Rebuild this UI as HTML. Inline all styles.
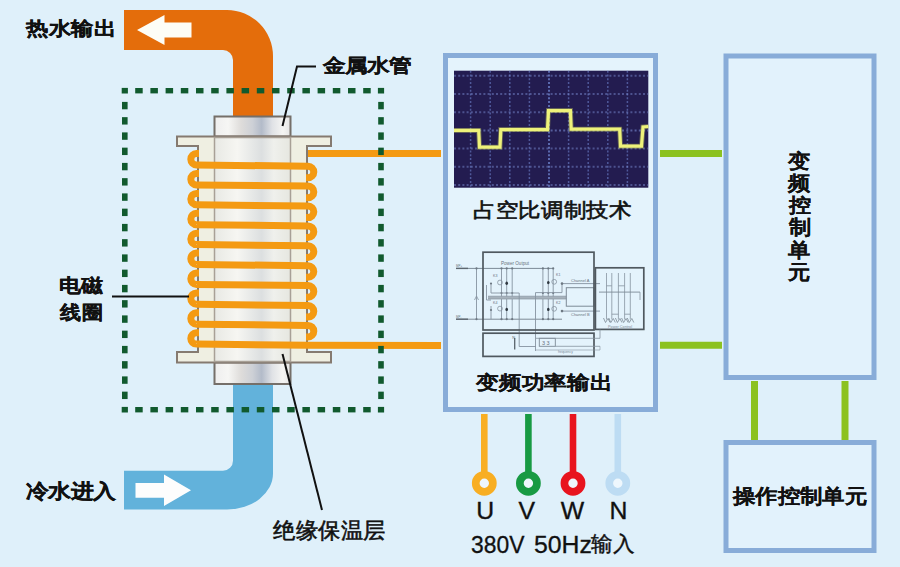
<!DOCTYPE html>
<html><head><meta charset="utf-8"><style>
html,body{margin:0;padding:0;width:900px;height:567px;overflow:hidden;background:#dff0fa;}
body{position:relative;font-family:"Liberation Sans",sans-serif;color:#111111;}
.t{position:absolute;white-space:nowrap;line-height:1;transform-origin:0 0;}
</style></head><body>
<svg width="900" height="567" viewBox="0 0 900 567" style="position:absolute;left:0;top:0">
<defs>
<linearGradient id="cap" x1="0" x2="1" y1="0" y2="0">
<stop offset="0" stop-color="#eeeeee"/><stop offset="0.18" stop-color="#f6f6f4"/><stop offset="0.35" stop-color="#dedcda"/>
<stop offset="0.5" stop-color="#cdd0d6"/><stop offset="0.62" stop-color="#b3bbc9"/><stop offset="0.76" stop-color="#e0e2e6"/><stop offset="0.9" stop-color="#f5f5f3"/><stop offset="1" stop-color="#e4e4e4"/>
</linearGradient>
<linearGradient id="tube" x1="0" x2="1" y1="0" y2="0">
<stop offset="0" stop-color="#e8e9e4"/><stop offset="0.3" stop-color="#f6f6f2"/><stop offset="0.62" stop-color="#dcdfe0"/>
<stop offset="0.78" stop-color="#eff0ec"/><stop offset="1" stop-color="#e6e7e0"/>
</linearGradient>
</defs>
<rect width="900" height="567" fill="#dff0fa"/>
<!-- hot pipe -->
<path d="M124,10 H227 A46,46 0 0 1 273,56 V118 H233 V60 A10,10 0 0 0 223,50 H124 Z" fill="#e46d0b"/>
<polygon points="137,30 164.5,15 164.5,22.5 191.5,22.5 191.5,37.5 164.5,37.5 164.5,45" fill="#fdfdf6"/>
<!-- cold pipe -->
<path d="M233,382 H273 V473.5 A46,36 0 0 1 227,509.5 H124 V470.8 H223 A10,10 0 0 0 233,460.8 Z" fill="#62b2db"/>
<polygon points="135.5,483 164,483 164,474.5 191,490.3 164,506 164,497.8 135.5,497.8" fill="#fdfdfd"/>
<!-- caps -->
<rect x="214.5" y="116.5" width="76" height="20" fill="url(#cap)" stroke="#756f69" stroke-width="2"/>
<rect x="214.5" y="362.5" width="76" height="21.5" fill="url(#cap)" stroke="#756f69" stroke-width="2"/>
<!-- flanges + body -->
<path d="M177,136.5 H331 V146 H307 V352 H331 V362.5 H177 V352 H198 V146 H177 Z" fill="#efefe2" stroke="#857a70" stroke-width="2"/>
<rect x="214.5" y="137.5" width="76" height="224" fill="url(#tube)" stroke="#a8a096" stroke-width="1.5"/>
<path d="M199,153.6 H196.5 A5.7,5.7 0 0 0 196.5,165.0 M196.5,165.0 L308,166.2 A5.8,5.8 0 0 1 308,177.8 H306 M199,173.5 H196.5 A5.7,5.7 0 0 0 196.5,184.9 M196.5,184.9 L308,186.1 A5.8,5.8 0 0 1 308,197.7 H306 M199,193.4 H196.5 A5.7,5.7 0 0 0 196.5,204.8 M196.5,204.8 L308,206.0 A5.8,5.8 0 0 1 308,217.6 H306 M199,213.3 H196.5 A5.7,5.7 0 0 0 196.5,224.7 M196.5,224.7 L308,225.9 A5.8,5.8 0 0 1 308,237.5 H306 M199,233.2 H196.5 A5.7,5.7 0 0 0 196.5,244.6 M196.5,244.6 L308,245.8 A5.8,5.8 0 0 1 308,257.4 H306 M199,253.1 H196.5 A5.7,5.7 0 0 0 196.5,264.5 M196.5,264.5 L308,265.7 A5.8,5.8 0 0 1 308,277.3 H306 M199,273.0 H196.5 A5.7,5.7 0 0 0 196.5,284.4 M196.5,284.4 L308,285.6 A5.8,5.8 0 0 1 308,297.2 H306 M199,292.9 H196.5 A5.7,5.7 0 0 0 196.5,304.3 M196.5,304.3 L308,305.5 A5.8,5.8 0 0 1 308,317.1 H306 M199,312.8 H196.5 A5.7,5.7 0 0 0 196.5,324.2 M196.5,324.2 L308,325.4 A5.8,5.8 0 0 1 308,337.0 H306 M199,332.7 H196.5 A5.7,5.7 0 0 0 196.5,344.1 M196.5,344.1 L308,345.3 L441,345.4" fill="none" stroke="#f49a12" stroke-width="7" stroke-linecap="butt"/>
<line x1="308" y1="153.4" x2="441" y2="153.4" stroke="#f49a12" stroke-width="7"/>
<rect x="121.70" y="87.90" width="6.2" height="5.6" fill="#115a2e"/>
<rect x="377.90" y="87.90" width="6.2" height="5.6" fill="#115a2e"/>
<rect x="121.70" y="406.90" width="6.2" height="5.6" fill="#115a2e"/>
<rect x="377.90" y="406.90" width="6.2" height="5.6" fill="#115a2e"/>
<rect x="135.20" y="88.00" width="7.5" height="5.4" fill="#115a2e"/>
<rect x="135.20" y="407.00" width="7.5" height="5.4" fill="#115a2e"/>
<rect x="150.40" y="88.00" width="7.5" height="5.4" fill="#115a2e"/>
<rect x="150.40" y="407.00" width="7.5" height="5.4" fill="#115a2e"/>
<rect x="165.60" y="88.00" width="7.5" height="5.4" fill="#115a2e"/>
<rect x="165.60" y="407.00" width="7.5" height="5.4" fill="#115a2e"/>
<rect x="180.80" y="88.00" width="7.5" height="5.4" fill="#115a2e"/>
<rect x="180.80" y="407.00" width="7.5" height="5.4" fill="#115a2e"/>
<rect x="196.00" y="88.00" width="7.5" height="5.4" fill="#115a2e"/>
<rect x="196.00" y="407.00" width="7.5" height="5.4" fill="#115a2e"/>
<rect x="211.20" y="88.00" width="7.5" height="5.4" fill="#115a2e"/>
<rect x="211.20" y="407.00" width="7.5" height="5.4" fill="#115a2e"/>
<rect x="226.40" y="88.00" width="7.5" height="5.4" fill="#115a2e"/>
<rect x="226.40" y="407.00" width="7.5" height="5.4" fill="#115a2e"/>
<rect x="241.60" y="88.00" width="7.5" height="5.4" fill="#115a2e"/>
<rect x="241.60" y="407.00" width="7.5" height="5.4" fill="#115a2e"/>
<rect x="256.80" y="88.00" width="7.5" height="5.4" fill="#115a2e"/>
<rect x="256.80" y="407.00" width="7.5" height="5.4" fill="#115a2e"/>
<rect x="272.00" y="88.00" width="7.5" height="5.4" fill="#115a2e"/>
<rect x="272.00" y="407.00" width="7.5" height="5.4" fill="#115a2e"/>
<rect x="287.20" y="88.00" width="7.5" height="5.4" fill="#115a2e"/>
<rect x="287.20" y="407.00" width="7.5" height="5.4" fill="#115a2e"/>
<rect x="302.40" y="88.00" width="7.5" height="5.4" fill="#115a2e"/>
<rect x="302.40" y="407.00" width="7.5" height="5.4" fill="#115a2e"/>
<rect x="317.60" y="88.00" width="7.5" height="5.4" fill="#115a2e"/>
<rect x="317.60" y="407.00" width="7.5" height="5.4" fill="#115a2e"/>
<rect x="332.80" y="88.00" width="7.5" height="5.4" fill="#115a2e"/>
<rect x="332.80" y="407.00" width="7.5" height="5.4" fill="#115a2e"/>
<rect x="348.00" y="88.00" width="7.5" height="5.4" fill="#115a2e"/>
<rect x="348.00" y="407.00" width="7.5" height="5.4" fill="#115a2e"/>
<rect x="363.20" y="88.00" width="7.5" height="5.4" fill="#115a2e"/>
<rect x="363.20" y="407.00" width="7.5" height="5.4" fill="#115a2e"/>
<rect x="122.00" y="101.90" width="5.6" height="7.4" fill="#115a2e"/>
<rect x="378.20" y="101.90" width="5.6" height="7.4" fill="#115a2e"/>
<rect x="122.00" y="117.15" width="5.6" height="7.4" fill="#115a2e"/>
<rect x="378.20" y="117.15" width="5.6" height="7.4" fill="#115a2e"/>
<rect x="122.00" y="132.40" width="5.6" height="7.4" fill="#115a2e"/>
<rect x="378.20" y="132.40" width="5.6" height="7.4" fill="#115a2e"/>
<rect x="122.00" y="147.65" width="5.6" height="7.4" fill="#115a2e"/>
<rect x="378.20" y="147.65" width="5.6" height="7.4" fill="#115a2e"/>
<rect x="122.00" y="162.90" width="5.6" height="7.4" fill="#115a2e"/>
<rect x="378.20" y="162.90" width="5.6" height="7.4" fill="#115a2e"/>
<rect x="122.00" y="178.15" width="5.6" height="7.4" fill="#115a2e"/>
<rect x="378.20" y="178.15" width="5.6" height="7.4" fill="#115a2e"/>
<rect x="122.00" y="193.40" width="5.6" height="7.4" fill="#115a2e"/>
<rect x="378.20" y="193.40" width="5.6" height="7.4" fill="#115a2e"/>
<rect x="122.00" y="208.65" width="5.6" height="7.4" fill="#115a2e"/>
<rect x="378.20" y="208.65" width="5.6" height="7.4" fill="#115a2e"/>
<rect x="122.00" y="223.90" width="5.6" height="7.4" fill="#115a2e"/>
<rect x="378.20" y="223.90" width="5.6" height="7.4" fill="#115a2e"/>
<rect x="122.00" y="239.15" width="5.6" height="7.4" fill="#115a2e"/>
<rect x="378.20" y="239.15" width="5.6" height="7.4" fill="#115a2e"/>
<rect x="122.00" y="254.40" width="5.6" height="7.4" fill="#115a2e"/>
<rect x="378.20" y="254.40" width="5.6" height="7.4" fill="#115a2e"/>
<rect x="122.00" y="269.65" width="5.6" height="7.4" fill="#115a2e"/>
<rect x="378.20" y="269.65" width="5.6" height="7.4" fill="#115a2e"/>
<rect x="122.00" y="284.90" width="5.6" height="7.4" fill="#115a2e"/>
<rect x="378.20" y="284.90" width="5.6" height="7.4" fill="#115a2e"/>
<rect x="122.00" y="300.15" width="5.6" height="7.4" fill="#115a2e"/>
<rect x="378.20" y="300.15" width="5.6" height="7.4" fill="#115a2e"/>
<rect x="122.00" y="315.40" width="5.6" height="7.4" fill="#115a2e"/>
<rect x="378.20" y="315.40" width="5.6" height="7.4" fill="#115a2e"/>
<rect x="122.00" y="330.65" width="5.6" height="7.4" fill="#115a2e"/>
<rect x="378.20" y="330.65" width="5.6" height="7.4" fill="#115a2e"/>
<rect x="122.00" y="345.90" width="5.6" height="7.4" fill="#115a2e"/>
<rect x="378.20" y="345.90" width="5.6" height="7.4" fill="#115a2e"/>
<rect x="122.00" y="361.15" width="5.6" height="7.4" fill="#115a2e"/>
<rect x="378.20" y="361.15" width="5.6" height="7.4" fill="#115a2e"/>
<rect x="122.00" y="376.40" width="5.6" height="7.4" fill="#115a2e"/>
<rect x="378.20" y="376.40" width="5.6" height="7.4" fill="#115a2e"/>
<rect x="122.00" y="391.65" width="5.6" height="7.4" fill="#115a2e"/>
<rect x="378.20" y="391.65" width="5.6" height="7.4" fill="#115a2e"/>
<!-- leader lines -->
<polyline points="316,66.5 297,66.5 282.5,126" fill="none" stroke="#111" stroke-width="2"/>
<line x1="112" y1="296.5" x2="189" y2="296.5" stroke="#111" stroke-width="2"/>
<line x1="282.5" y1="354" x2="322" y2="510" stroke="#111" stroke-width="2"/>
<!-- center box -->
<rect x="445.5" y="55.5" width="210" height="354" fill="#e4f3fc" stroke="#88acd8" stroke-width="5"/>
<!-- right boxes -->
<rect x="726" y="56" width="148" height="321.5" fill="#e2f2fc" stroke="#88acd8" stroke-width="5"/>
<rect x="726" y="442.5" width="148" height="108" fill="#e2f2fc" stroke="#88acd8" stroke-width="5"/>
<!-- green connectors -->
<line x1="660" y1="153.5" x2="722" y2="153.5" stroke="#8cc220" stroke-width="7"/>
<line x1="660" y1="345.3" x2="722" y2="345.3" stroke="#8cc220" stroke-width="7"/>
<line x1="754.5" y1="381" x2="754.5" y2="440" stroke="#8cc220" stroke-width="7"/>
<line x1="845" y1="381" x2="845" y2="440" stroke="#8cc220" stroke-width="7"/>
<rect x="454" y="70.7" width="194.3" height="117.0" fill="#231c50"/>
<line x1="470.6" y1="70.7" x2="470.6" y2="187.7" stroke="#7b95e4" stroke-width="1.5" stroke-dasharray="2 1.8" opacity="0.5"/>
<line x1="490.2" y1="70.7" x2="490.2" y2="187.7" stroke="#7b95e4" stroke-width="1.5" stroke-dasharray="2 1.8" opacity="0.5"/>
<line x1="509.8" y1="70.7" x2="509.8" y2="187.7" stroke="#7b95e4" stroke-width="1.5" stroke-dasharray="2 1.8" opacity="0.5"/>
<line x1="529.4" y1="70.7" x2="529.4" y2="187.7" stroke="#7b95e4" stroke-width="1.5" stroke-dasharray="2 1.8" opacity="0.5"/>
<line x1="549.0" y1="70.7" x2="549.0" y2="187.7" stroke="#7b95e4" stroke-width="1.5" stroke-dasharray="2 1.8" opacity="0.85"/>
<line x1="568.6" y1="70.7" x2="568.6" y2="187.7" stroke="#7b95e4" stroke-width="1.5" stroke-dasharray="2 1.8" opacity="0.5"/>
<line x1="588.2" y1="70.7" x2="588.2" y2="187.7" stroke="#7b95e4" stroke-width="1.5" stroke-dasharray="2 1.8" opacity="0.5"/>
<line x1="607.8" y1="70.7" x2="607.8" y2="187.7" stroke="#7b95e4" stroke-width="1.5" stroke-dasharray="2 1.8" opacity="0.5"/>
<line x1="627.4" y1="70.7" x2="627.4" y2="187.7" stroke="#7b95e4" stroke-width="1.5" stroke-dasharray="2 1.8" opacity="0.5"/>
<line x1="454" y1="75.8" x2="648.3" y2="75.8" stroke="#8195dc" stroke-width="2" stroke-dasharray="2 2.2" opacity="0.45"/>
<line x1="454" y1="94.0" x2="648.3" y2="94.0" stroke="#8195dc" stroke-width="2" stroke-dasharray="2 2.2" opacity="0.45"/>
<line x1="454" y1="112.2" x2="648.3" y2="112.2" stroke="#8195dc" stroke-width="2" stroke-dasharray="2 2.2" opacity="0.45"/>
<line x1="454" y1="130.4" x2="648.3" y2="130.4" stroke="#8195dc" stroke-width="2" stroke-dasharray="2 2.2" opacity="0.55"/>
<line x1="454" y1="148.6" x2="648.3" y2="148.6" stroke="#8195dc" stroke-width="2" stroke-dasharray="2 2.2" opacity="0.45"/>
<line x1="454" y1="166.8" x2="648.3" y2="166.8" stroke="#8195dc" stroke-width="2" stroke-dasharray="2 2.2" opacity="0.45"/>
<line x1="454" y1="185.0" x2="648.3" y2="185.0" stroke="#8195dc" stroke-width="2" stroke-dasharray="2 2.2" opacity="0.45"/>
<polyline points="454,130.4 478.7,130.4 479.5,147.2 500,147.2 500.8,129.6 547.5,129.6 548.5,110.6 570.4,110.6 571.2,129.2 619.7,129.2 620.5,146.2 641.5,146.2 643,127 648.3,126.5" fill="none" stroke="#dfe860" stroke-width="5" opacity="0.35"/>
<polyline points="454,130.4 478.7,130.4 479.5,147.2 500,147.2 500.8,129.6 547.5,129.6 548.5,110.6 570.4,110.6 571.2,129.2 619.7,129.2 620.5,146.2 641.5,146.2 643,127 648.3,126.5" fill="none" stroke="#eef27a" stroke-width="3.2"/>
<line x1="456" y1="268.4" x2="553.2" y2="268.4" stroke="#7d8a96" stroke-width="1.0"/>
<line x1="456" y1="319.2" x2="562" y2="319.2" stroke="#7d8a96" stroke-width="1.0"/>
<line x1="456" y1="268.4" x2="468" y2="268.4" stroke="#5d6770" stroke-width="1.4"/>
<line x1="456" y1="319.2" x2="468" y2="319.2" stroke="#5d6770" stroke-width="1.4"/>
<line x1="476.5" y1="268.4" x2="476.5" y2="319.2" stroke="#8693a0" stroke-width="0.9"/>
<polyline points="474.5,300 476.5,296 478.5,300" fill="none" stroke="#8693a0" stroke-width="0.8"/>
<line x1="501.5" y1="268.4" x2="501.5" y2="319.2" stroke="#8693a0" stroke-width="0.9"/>
<circle cx="501.5" cy="268.4" r="1.1" fill="#6d7883"/>
<circle cx="501.5" cy="319.2" r="1.1" fill="#6d7883"/>
<circle cx="501.5" cy="293" r="1.1" fill="#6d7883"/>
<line x1="506.7" y1="268.4" x2="506.7" y2="319.2" stroke="#8693a0" stroke-width="0.9"/>
<circle cx="506.7" cy="268.4" r="1.1" fill="#6d7883"/>
<circle cx="506.7" cy="319.2" r="1.1" fill="#6d7883"/>
<circle cx="506.7" cy="293" r="1.1" fill="#6d7883"/>
<line x1="512.2" y1="268.4" x2="512.2" y2="319.2" stroke="#8693a0" stroke-width="0.9"/>
<circle cx="512.2" cy="268.4" r="1.1" fill="#6d7883"/>
<circle cx="512.2" cy="319.2" r="1.1" fill="#6d7883"/>
<circle cx="512.2" cy="293" r="1.1" fill="#6d7883"/>
<line x1="542.9" y1="268.4" x2="542.9" y2="319.2" stroke="#8693a0" stroke-width="0.9"/>
<circle cx="542.9" cy="268.4" r="1.1" fill="#6d7883"/>
<circle cx="542.9" cy="319.2" r="1.1" fill="#6d7883"/>
<circle cx="542.9" cy="293" r="1.1" fill="#6d7883"/>
<line x1="548.3" y1="268.4" x2="548.3" y2="319.2" stroke="#8693a0" stroke-width="0.9"/>
<circle cx="548.3" cy="268.4" r="1.1" fill="#6d7883"/>
<circle cx="548.3" cy="319.2" r="1.1" fill="#6d7883"/>
<circle cx="548.3" cy="293" r="1.1" fill="#6d7883"/>
<line x1="553.2" y1="268.4" x2="553.2" y2="319.2" stroke="#8693a0" stroke-width="0.9"/>
<circle cx="553.2" cy="268.4" r="1.1" fill="#6d7883"/>
<circle cx="553.2" cy="319.2" r="1.1" fill="#6d7883"/>
<circle cx="553.2" cy="293" r="1.1" fill="#6d7883"/>
<circle cx="476.5" cy="268.4" r="1.1" fill="#6d7883"/>
<circle cx="476.5" cy="319.2" r="1.1" fill="#6d7883"/>
<rect x="488" y="296.2" width="78.3" height="2.8" fill="#a7b2bc"/>
<line x1="488" y1="296.2" x2="566.3" y2="296.2" stroke="#8a96a2" stroke-width="0.7"/>
<line x1="488" y1="299" x2="566.3" y2="299" stroke="#8a96a2" stroke-width="0.7"/>
<line x1="491" y1="283.5" x2="491" y2="293" stroke="#8693a0" stroke-width="0.9"/>
<line x1="491" y1="293" x2="519.2" y2="293" stroke="#8693a0" stroke-width="0.9"/>
<line x1="519.2" y1="293" x2="519.2" y2="346.5" stroke="#8693a0" stroke-width="0.9"/>
<line x1="486.5" y1="285" x2="486.5" y2="300" stroke="#8693a0" stroke-width="0.9"/>
<line x1="486.5" y1="300" x2="491" y2="300" stroke="#8693a0" stroke-width="0.9"/>
<line x1="491" y1="306" x2="491" y2="319.2" stroke="#8693a0" stroke-width="0.9"/>
<circle cx="491" cy="283.5" r="1.1" fill="#6d7883"/>
<circle cx="491" cy="310" r="1.1" fill="#6d7883"/>
<line x1="535.5" y1="292.6" x2="562" y2="292.6" stroke="#8693a0" stroke-width="0.9"/>
<line x1="535.5" y1="292.6" x2="535.5" y2="351" stroke="#8693a0" stroke-width="0.9"/>
<line x1="562" y1="283.6" x2="562" y2="292.6" stroke="#8693a0" stroke-width="0.9"/>
<line x1="562" y1="283.6" x2="600" y2="283.6" stroke="#8693a0" stroke-width="0.9"/>
<line x1="562" y1="311.1" x2="600" y2="311.1" stroke="#8693a0" stroke-width="0.9"/>
<circle cx="562" cy="283.6" r="1.3" fill="#6d7883"/>
<circle cx="562" cy="311.1" r="1.3" fill="#6d7883"/>
<rect x="566.3" y="287.7" width="27.7" height="18.5" fill="none" stroke="#7d8a96" stroke-width="1"/>
<circle cx="500" cy="282.5" r="2.4" fill="none" stroke="#8693a0" stroke-width="0.8"/>
<circle cx="500" cy="308.6" r="2.4" fill="none" stroke="#8693a0" stroke-width="0.8"/>
<circle cx="554.2" cy="281.8" r="2.4" fill="none" stroke="#8693a0" stroke-width="0.8"/>
<circle cx="554.2" cy="308.8" r="2.4" fill="none" stroke="#8693a0" stroke-width="0.8"/>
<ellipse cx="506.7" cy="283.2" rx="1.3" ry="1.7" fill="#2f3840"/>
<ellipse cx="506.7" cy="309.4" rx="1.3" ry="1.7" fill="#2f3840"/>
<ellipse cx="548.3" cy="282.6" rx="1.3" ry="1.7" fill="#2f3840"/>
<ellipse cx="548.3" cy="309.4" rx="1.3" ry="1.7" fill="#2f3840"/>
<text x="493" y="276.5" font-size="3.6" fill="#66717c" font-family="Liberation Sans">K3</text>
<text x="493" y="304" font-size="3.6" fill="#66717c" font-family="Liberation Sans">K4</text>
<text x="556" y="275.5" font-size="3.6" fill="#66717c" font-family="Liberation Sans">K1</text>
<text x="556" y="303.5" font-size="3.6" fill="#66717c" font-family="Liberation Sans">K2</text>
<rect x="483" y="252.2" width="111" height="77.8" fill="none" stroke="#4f585f" stroke-width="1.7"/>
<rect x="483" y="333.2" width="111" height="23.2" fill="none" stroke="#4f585f" stroke-width="1.7"/>
<rect x="595.4" y="267.8" width="48.4" height="61.6" fill="none" stroke="#4f585f" stroke-width="1.7"/>
<line x1="606.5" y1="273" x2="606.5" y2="319.5" stroke="#8693a0" stroke-width="0.8"/>
<polyline points="603.5,318 605.5,322.5 608.0,318.5 610.0,322.5" fill="none" stroke="#7d8a96" stroke-width="0.8"/>
<line x1="611.8" y1="273" x2="611.8" y2="319.5" stroke="#8693a0" stroke-width="0.8"/>
<polyline points="608.8,318 610.8,322.5 613.3,318.5 615.3,322.5" fill="none" stroke="#7d8a96" stroke-width="0.8"/>
<line x1="618.4" y1="273" x2="618.4" y2="319.5" stroke="#8693a0" stroke-width="0.8"/>
<polyline points="615.4,318 617.4,322.5 619.9,318.5 621.9,322.5" fill="none" stroke="#7d8a96" stroke-width="0.8"/>
<line x1="624.6" y1="273" x2="624.6" y2="319.5" stroke="#8693a0" stroke-width="0.8"/>
<polyline points="621.6,318 623.6,322.5 626.1,318.5 628.1,322.5" fill="none" stroke="#7d8a96" stroke-width="0.8"/>
<line x1="630.3" y1="273" x2="630.3" y2="319.5" stroke="#8693a0" stroke-width="0.8"/>
<polyline points="627.3,318 629.3,322.5 631.8,318.5 633.8,322.5" fill="none" stroke="#7d8a96" stroke-width="0.8"/>
<line x1="599" y1="292.1" x2="640" y2="292.1" stroke="#7d8a96" stroke-width="0.9"/>
<line x1="606.5" y1="285.8" x2="611.8" y2="285.8" stroke="#8693a0" stroke-width="0.8"/>
<line x1="618.4" y1="285.8" x2="624.6" y2="285.8" stroke="#8693a0" stroke-width="0.8"/>
<line x1="611.8" y1="314.2" x2="618.4" y2="314.2" stroke="#8693a0" stroke-width="0.8"/>
<line x1="624.6" y1="314.2" x2="630.3" y2="314.2" stroke="#8693a0" stroke-width="0.8"/>
<line x1="640" y1="292.1" x2="640" y2="300" stroke="#8693a0" stroke-width="0.8"/>
<line x1="514.7" y1="338" x2="514.7" y2="349.5" stroke="#59636c" stroke-width="1.3"/>
<text x="512.2" y="338.5" font-size="4" fill="#59636c" font-family="Liberation Sans">N</text>
<line x1="519.2" y1="346.5" x2="536" y2="346.5" stroke="#8693a0" stroke-width="0.9"/>
<rect x="539.3" y="338.3" width="16" height="8" fill="none" stroke="#7d8a96" stroke-width="0.9"/>
<text x="542" y="344.8" font-size="5.5" fill="#66717c" font-family="Liberation Sans">3 3</text>
<line x1="536" y1="338.3" x2="600" y2="338.3" stroke="#8693a0" stroke-width="0.8"/>
<line x1="555.3" y1="346.3" x2="600" y2="346.3" stroke="#8693a0" stroke-width="0.8"/>
<line x1="536" y1="350" x2="600" y2="350" stroke="#8693a0" stroke-width="0.6"/>
<line x1="600" y1="338.3" x2="600" y2="329.5" stroke="#8693a0" stroke-width="0.8"/>
<line x1="600" y1="346.3" x2="600" y2="350" stroke="#8693a0" stroke-width="0.6"/>
<text x="558" y="352.5" font-size="3.4" fill="#7d8a96" font-family="Liberation Sans">frequency</text>
<text x="501" y="264.6" font-size="4.6" fill="#6a7580" font-family="Liberation Sans">Power  Output</text>
<text x="571" y="282.3" font-size="4" fill="#6a7580" font-family="Liberation Sans">Channel A</text>
<text x="571" y="315.8" font-size="4" fill="#6a7580" font-family="Liberation Sans">Channel B</text>
<text x="608" y="327.8" font-size="3.8" fill="#7d8a96" font-family="Liberation Sans">Power Control</text>
<text x="456" y="267.3" font-size="3" fill="#6a7580" font-family="Liberation Sans">MP+ </text>
<text x="456" y="318.1" font-size="3" fill="#6a7580" font-family="Liberation Sans">MP- </text>
<line x1="484.3" y1="414" x2="484.3" y2="473" stroke="#f8ae22" stroke-width="6.6"/>
<circle cx="484.3" cy="483.3" r="8.55" fill="#eef7fd" stroke="#f8ae22" stroke-width="7.7"/>
<line x1="528.4" y1="414" x2="528.4" y2="473" stroke="#189a43" stroke-width="6.6"/>
<circle cx="528.4" cy="483.3" r="8.55" fill="#eef7fd" stroke="#189a43" stroke-width="7.7"/>
<line x1="573" y1="414" x2="573" y2="473" stroke="#e8141e" stroke-width="6.6"/>
<circle cx="573" cy="483.3" r="8.55" fill="#eef7fd" stroke="#e8141e" stroke-width="7.7"/>
<line x1="617.8" y1="414" x2="617.8" y2="473" stroke="#bddcf3" stroke-width="6.6"/>
<circle cx="617.8" cy="483.3" r="8.55" fill="#eef7fd" stroke="#bddcf3" stroke-width="7.7"/>
</svg><div class="t" style="left:26.38px;top:19.14px;font-size:22.93px;font-weight:700;-webkit-text-stroke:0.3px #111111;transform:scale(0.9844,0.8375);">热水输出</div>
<div class="t" style="left:322.8px;top:56.74px;font-size:22.15px;font-weight:700;-webkit-text-stroke:0.3px #111111;transform:scale(1.0068,0.8435);">金属水管</div>
<div class="t" style="left:58.7px;top:275.76px;font-size:21.95px;font-weight:700;-webkit-text-stroke:0.3px #111111;transform:scale(0.9977,0.8636);">电磁</div>
<div class="t" style="left:59.7px;top:302.79px;font-size:21.59px;font-weight:700;-webkit-text-stroke:0.3px #111111;transform:scale(0.9814,0.8864);">线圈</div>
<div class="t" style="left:25.7px;top:481.58px;font-size:22.25px;font-weight:700;-webkit-text-stroke:0.3px #111111;transform:scale(1.0114,0.8826);">冷水进入</div>
<div class="t" style="left:273.2px;top:519.97px;font-size:22.6px;font-weight:400;-webkit-text-stroke:0.6px #111111;transform:scale(0.9826,0.9727);">绝缘保温层</div>
<div class="t" style="left:472.62px;top:200.75px;font-size:22.63px;font-weight:400;-webkit-text-stroke:0.7px #111111;transform:scale(0.9837,0.875);">占空比调制技术</div>
<div class="t" style="left:476.2px;top:373.33px;font-size:22.82px;font-weight:700;-webkit-text-stroke:0.15px #111111;transform:scale(0.9911,0.8333);">变频功率输出</div>
<div class="t" style="left:732.97px;top:486.87px;font-size:22.5px;font-weight:700;-webkit-text-stroke:0.15px #111111;transform:scale(0.9712,0.8696);">操作控制单元</div>
<div class="t" style="left:476.15px;top:498.6px;font-size:24.8px;font-weight:400;-webkit-text-stroke:0.35px #111111;">U</div>
<div class="t" style="left:518.4px;top:498.6px;font-size:24.8px;font-weight:400;-webkit-text-stroke:0.35px #111111;">V</div>
<div class="t" style="left:560.7px;top:498.6px;font-size:24.8px;font-weight:400;-webkit-text-stroke:0.35px #111111;">W</div>
<div class="t" style="left:609.4px;top:498.6px;font-size:24.8px;font-weight:400;-webkit-text-stroke:0.35px #111111;">N</div>
<div class="t" style="left:470.56px;top:533.1px;font-size:24.3px;font-weight:400;-webkit-text-stroke:0.3px #111111;transform:scale(0.9411,1);">380V</div>
<div class="t" style="left:533.78px;top:533.1px;font-size:24.3px;font-weight:400;-webkit-text-stroke:0.3px #111111;transform:scale(1.0218,1);">50Hz</div>
<div class="t" style="left:591.3px;top:534.3px;font-size:22.0px;font-weight:400;-webkit-text-stroke:0.4px #111111;transform:scale(1.0,0.9714);">输入</div>
<div class="t" style="left:788.25px;top:152.25px;font-size:22.5px;font-weight:700;-webkit-text-stroke:0.05px #111111;transform:scale(1.0,0.9);">变</div>
<div class="t" style="left:788.25px;top:173.55px;font-size:22.5px;font-weight:700;-webkit-text-stroke:0.05px #111111;transform:scale(1.0,0.9);">频</div>
<div class="t" style="left:788.75px;top:195.75px;font-size:22.5px;font-weight:700;-webkit-text-stroke:0.05px #111111;transform:scale(1.0,0.9);">控</div>
<div class="t" style="left:788.75px;top:217.95px;font-size:22.5px;font-weight:700;-webkit-text-stroke:0.05px #111111;transform:scale(1.0,0.9);">制</div>
<div class="t" style="left:788.25px;top:240.6px;font-size:22.5px;font-weight:700;-webkit-text-stroke:0.05px #111111;transform:scale(1.0,0.9);">单</div>
<div class="t" style="left:788.25px;top:262.8px;font-size:22.5px;font-weight:700;-webkit-text-stroke:0.05px #111111;transform:scale(1.0,0.9);">元</div>
</body></html>
